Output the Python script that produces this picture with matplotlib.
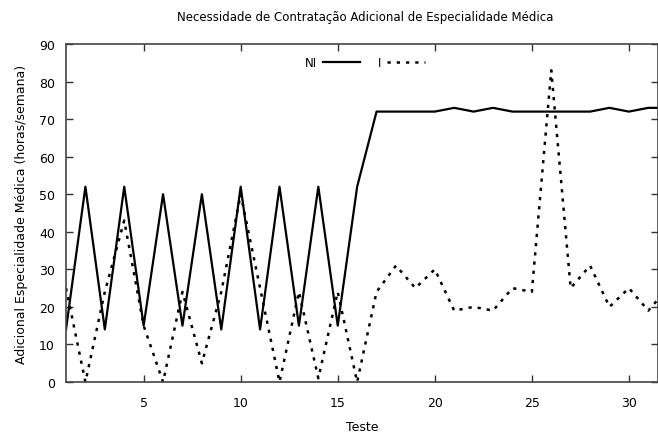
import numpy as np
import matplotlib
matplotlib.use('Agg')
import matplotlib.pyplot as plt

# tests 1..32
testes = list(range(1, 33))
ni = [14, 52, 14, 52, 15, 50, 15, 50, 14, 52, 14, 52, 15, 52, 15, 52,
      72, 72, 72, 72, 73, 72, 73, 72, 72, 72, 72, 72, 73, 72, 73, 73]
i_vals = [25, 0, 24, 43, 15, 0, 24, 5, 24, 50, 25, 0, 24, 1, 24, 0,
          24, 31, 25, 30, 19, 20, 19, 25, 24, 83, 25, 31, 20, 25, 19, 25]

x_ticks = [5, 10, 15, 20, 25, 30]
y_ticks = list(range(0, 91, 10))

plt.rcParams['font.family'] = ['DejaVu Sans']

fig = plt.figure(figsize=(6.58, 4.39), dpi=100)
ax = fig.add_axes([66 / 658, 56 / 439, 592 / 658, 338 / 439])

ax.plot(testes, ni, color='black', linewidth=1.6, label='NI')
ax.plot(testes, i_vals, color='black', linewidth=1.8, linestyle=(0, (1.3, 2.4)), label='I')

ax.set_xlim(1, 31.5)
ax.set_ylim(0, 90)
ax.set_xticks(x_ticks)
ax.set_yticks(y_ticks)
ax.tick_params(direction='in', length=5, width=1, colors='#333333',
               labelsize=9, top=True, right=True, pad=8)
ax.tick_params(axis='x', pad=10)
for lbl in ax.get_xticklabels() + ax.get_yticklabels():
    lbl.set_color('black')
for s in ax.spines.values():
    s.set_color('#444444')
    s.set_linewidth(1.2)

ax.set_xlabel('Teste', fontsize=9, labelpad=8)
ax.set_ylabel('Adicional Especialidade Médica (horas/semana)', fontsize=9, labelpad=8)
fig.text(365 / 658, 1 - 18 / 439,
         'Necessidade de Contratação Adicional de Especialidade Médica',
         ha='center', va='center', fontsize=8.5)

leg = ax.legend(loc='upper center', bbox_to_anchor=(0.505, 0.995), ncol=2,
                frameon=False, fontsize=8.5, markerfirst=False,
                handlelength=3.2, columnspacing=1.5, handletextpad=0.5)

fig.savefig('out.png', dpi=100)
